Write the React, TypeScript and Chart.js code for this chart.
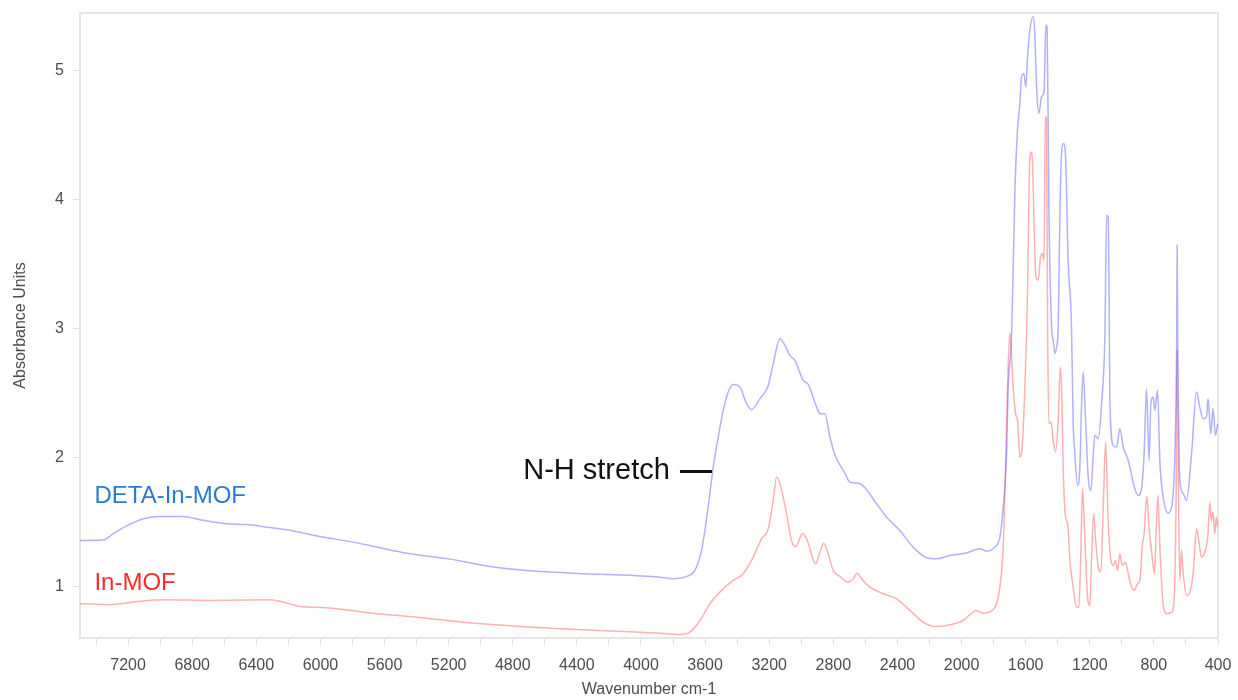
import React, { useEffect, useRef } from "react";
import { Chart, registerables } from "chart.js";

Chart.register(...registerables);

// DETA-In-MOF spectrum (wavenumber cm-1, absorbance)
const detaWavenumber = [
  7500, 7355, 7292, 7209, 7105, 7001, 6856, 6751, 6585, 6460, 6335, 6210, 6003, 5795, 5629, 5480, 5192, 4942, 4672, 4360,
  4048, 3882, 3799, 3715, 3664, 3622, 3581, 3549, 3518, 3487, 3456, 3425, 3383, 3341, 3310, 3258, 3206, 3175, 3133, 3102,
  3071, 3040, 2988, 2957, 2904, 2884, 2853, 2821, 2790, 2728, 2697, 2634, 2530, 2468, 2385, 2302, 2218, 2156, 2073, 1969,
  1886, 1844, 1792, 1761, 1740, 1719, 1709, 1688, 1667, 1651, 1636, 1626, 1611, 1599, 1588, 1574, 1553, 1543, 1532, 1518,
  1501, 1485, 1474, 1466, 1455, 1438, 1428, 1418, 1407, 1397, 1386, 1376, 1363, 1351, 1335, 1314, 1304, 1293, 1276, 1262,
  1251, 1241, 1226, 1210, 1193, 1178, 1168, 1147, 1126, 1106, 1095, 1085, 1078, 1075, 1054, 1033, 1012, 991, 960, 919,
  898, 877, 861, 846, 830, 819, 804, 794, 777, 763, 742, 711, 690, 669, 658, 655, 651, 638, 617, 596,
  565, 534, 514, 493, 472, 462, 445, 431, 416, 402,
];
const detaAbsorbance = [
  1.357, 1.36, 1.41, 1.47, 1.525, 1.543, 1.543, 1.518, 1.487, 1.48, 1.46, 1.44, 1.388, 1.344, 1.3, 1.262, 1.212, 1.155, 1.119, 1.099,
  1.085, 1.072, 1.06, 1.078, 1.124, 1.28, 1.616, 1.93, 2.16, 2.366, 2.509, 2.568, 2.547, 2.418, 2.372, 2.457, 2.56, 2.729, 2.923, 2.871,
  2.793, 2.755, 2.6, 2.568, 2.392, 2.341, 2.341, 2.16, 2.02, 1.88, 1.81, 1.797, 1.642, 1.538, 1.435, 1.305, 1.223, 1.215, 1.241, 1.259,
  1.293, 1.274, 1.305, 1.383, 1.616, 2.03, 2.547, 2.936, 4.075, 4.54, 4.748, 4.955, 4.98, 4.877, 5.11, 5.317, 5.42, 5.29, 4.877, 4.67,
  4.8, 4.85, 5.356, 5.34, 3.92, 3.013, 2.91, 2.807, 2.858, 3.013, 3.92, 4.36, 4.437, 4.33, 3.53, 3.013, 2.289, 2.03, 1.784, 1.926,
  2.418, 2.664, 2.289, 1.849, 1.745, 2.03, 2.172, 2.147, 2.418, 2.936, 3.88, 3.867, 3.013, 2.47, 2.095, 2.082, 2.224, 2.082, 1.978, 1.759,
  1.707, 1.759, 2.03, 2.535, 1.978, 2.418, 2.47, 2.366, 2.522, 1.978, 1.693, 1.569, 1.616, 2.03, 2.9, 3.65, 2.9, 1.823, 1.72, 1.668,
  2.03, 2.509, 2.392, 2.302, 2.315, 2.457, 2.186, 2.38, 2.172, 2.263,
];

// In-MOF spectrum (wavenumber cm-1, absorbance)
const inmofWavenumber = [
  7500, 7313, 7126, 6959, 6689, 6335, 6252, 6128, 5961, 5649, 5480, 5110, 4672, 4256, 3882, 3757, 3695, 3632, 3570, 3508,
  3425, 3362, 3300, 3248, 3206, 3175, 3154, 3133, 3092, 3061, 3034, 2992, 2967, 2909, 2884, 2859, 2832, 2801, 2759, 2707,
  2676, 2651, 2624, 2572, 2489, 2405, 2322, 2239, 2177, 2094, 1990, 1906, 1865, 1803, 1780, 1761, 1740, 1726, 1713, 1699,
  1678, 1663, 1651, 1636, 1622, 1605, 1588, 1578, 1567, 1557, 1547, 1536, 1522, 1507, 1495, 1485, 1478, 1470, 1463, 1455,
  1442, 1428, 1413, 1397, 1384, 1376, 1366, 1351, 1338, 1324, 1304, 1283, 1268, 1256, 1245, 1231, 1214, 1199, 1189, 1176,
  1162, 1147, 1131, 1116, 1101, 1085, 1068, 1054, 1039, 1027, 1012, 998, 977, 960, 939, 923, 902, 887, 873, 861,
  844, 830, 813, 797, 786, 775, 761, 740, 719, 688, 672, 661, 655, 647, 638, 628, 617, 596, 576, 555,
  534, 520, 503, 486, 462, 451, 441, 431, 420, 410, 402,
];
const inmofAbsorbance = [
  0.866, 0.86, 0.886, 0.897, 0.891, 0.897, 0.886, 0.845, 0.835, 0.788, 0.77, 0.723, 0.684, 0.658, 0.637, 0.627, 0.645, 0.736, 0.866, 0.956,
  1.047, 1.099, 1.228, 1.37, 1.448, 1.668, 1.849, 1.797, 1.564, 1.357, 1.31, 1.41, 1.37, 1.176, 1.266, 1.336, 1.254, 1.124, 1.078, 1.033,
  1.06, 1.103, 1.06, 0.995, 0.943, 0.904, 0.814, 0.723, 0.69, 0.697, 0.736, 0.814, 0.793, 0.819, 0.87, 0.995, 1.305, 1.9, 2.547, 2.97,
  2.547, 2.34, 2.289, 2.004, 2.082, 2.547, 3.3, 4.178, 4.372, 4.28, 3.79, 3.4, 3.376, 3.557, 3.583, 3.531, 4.644, 4.62, 3.0, 2.263,
  2.276, 2.134, 2.043, 2.289, 2.703, 2.547, 1.926, 1.538, 1.487, 1.202, 0.995, 0.839, 0.839, 1.254, 1.759, 1.383, 0.917, 0.852, 1.202, 1.564,
  1.332, 1.15, 1.111, 1.616, 2.12, 1.512, 1.202, 1.163, 1.202, 1.124, 1.254, 1.163, 1.189, 1.099, 0.995, 0.969, 1.021, 1.047, 1.305, 1.41,
  1.699, 1.46, 1.254, 1.099, 1.41, 1.707, 1.254, 0.839, 0.788, 0.8, 0.943, 1.771, 2.832, 1.771, 1.047, 1.28, 1.099, 0.93, 0.956, 1.099,
  1.448, 1.357, 1.228, 1.254, 1.41, 1.654, 1.512, 1.577, 1.41, 1.538, 1.46,
];

const xTickValues = [
  400, 600, 800, 1000, 1200, 1400, 1600, 1800, 2000, 2200, 2400, 2600, 2800, 3000, 3200, 3400, 3600, 3800, 4000,
  4200, 4400, 4600, 4800, 5000, 5200, 5400, 5600, 5800, 6000, 6200, 6400, 6600, 6800, 7000, 7200, 7400,
];
const yTickValues = [1, 2, 3, 4, 5];

const FONT = "'Liberation Sans', Arial, Helvetica, sans-serif";

const frameAndLabels = {
  id: "frameAndLabels",
  beforeDatasetsDraw(chart: any) {
    const { ctx, chartArea } = chart;
    ctx.save();
    ctx.strokeStyle = "#e6e6e6";
    ctx.lineWidth = 2;
    ctx.strokeRect(chartArea.left, chartArea.top, chartArea.right - chartArea.left, chartArea.bottom - chartArea.top);
    ctx.restore();
  },
  afterDatasetsDraw(chart: any) {
    const { ctx } = chart;
    const xs = chart.scales.x;
    const ys = chart.scales.y;
    ctx.save();
    ctx.textBaseline = "middle";
    ctx.textAlign = "left";
    ctx.font = `24px ${FONT}`;
    ctx.fillStyle = "#2b7bd0";
    ctx.fillText("DETA-In-MOF", xs.getPixelForValue(7410), ys.getPixelForValue(1.7));
    ctx.fillStyle = "#ff2b2b";
    ctx.fillText("In-MOF", xs.getPixelForValue(7410), ys.getPixelForValue(1.025));
    ctx.fillStyle = "#111";
    ctx.font = `29px ${FONT}`;
    ctx.textAlign = "right";
    const ny = ys.getPixelForValue(1.893);
    ctx.fillText("N-H stretch", xs.getPixelForValue(3820), ny);
    ctx.strokeStyle = "#111";
    ctx.lineWidth = 3;
    ctx.beginPath();
    ctx.moveTo(xs.getPixelForValue(3757), ny);
    ctx.lineTo(xs.getPixelForValue(3557), ny);
    ctx.stroke();
    ctx.restore();
  },
};

export default function App() {
  const ref = useRef<HTMLCanvasElement | null>(null);
  useEffect(() => {
    if (!ref.current) return;
    const chart = new Chart(ref.current, {
      type: "line",
      data: {
        datasets: [
          {
            label: "DETA-In-MOF",
            data: detaWavenumber.map((x, i) => ({ x, y: detaAbsorbance[i] })),
            borderColor: "rgba(70,70,255,0.42)",
            borderWidth: 1.5,
            pointRadius: 0,
            cubicInterpolationMode: "monotone",
          },
          {
            label: "In-MOF",
            data: inmofWavenumber.map((x, i) => ({ x, y: inmofAbsorbance[i] })),
            borderColor: "rgba(255,70,70,0.42)",
            borderWidth: 1.5,
            pointRadius: 0,
            cubicInterpolationMode: "monotone",
          },
        ],
      },
      options: {
        animation: false,
        responsive: false,
        layout: { padding: { left: 0, right: 20, top: 13, bottom: 0 } },
        plugins: { legend: { display: false }, tooltip: { enabled: false } },
        scales: {
          x: {
            type: "linear",
            reverse: true,
            min: 400,
            max: 7500,
            afterBuildTicks: (s: any) => {
              s.ticks = xTickValues.map((v) => ({ value: v }));
            },
            afterFit: (s: any) => {
              s.height = 62;
            },
            ticks: {
              autoSkip: false,
              maxRotation: 0,
              padding: 11,
              color: "#4d4d4d",
              font: { family: FONT, size: 16 },
              callback: (v: any) => (Number(v) % 400 === 0 ? String(v) : ""),
            },
            grid: { drawOnChartArea: false, tickLength: 7, color: "#e0e0e0", lineWidth: 1 },
            border: { display: true, color: "#e6e6e6", width: 2 },
            title: {
              display: true,
              text: "Wavenumber cm-1",
              color: "#4d4d4d",
              font: { family: FONT, size: 16 },
              padding: { top: 0, bottom: 1 },
            },
          },
          y: {
            type: "linear",
            min: 0.6,
            max: 5.45,
            afterBuildTicks: (s: any) => {
              s.ticks = yTickValues.map((v) => ({ value: v }));
            },
            afterFit: (s: any) => {
              s.width = 80;
              s.paddingTop = 0;
              s.paddingBottom = 0;
            },
            ticks: {
              padding: 9,
              color: "#4d4d4d",
              font: { family: FONT, size: 16 },
              callback: (v: any) => String(v),
            },
            grid: { drawOnChartArea: false, tickLength: 7, color: "#e0e0e0", lineWidth: 1 },
            border: { display: true, color: "#e6e6e6", width: 2 },
            title: {
              display: true,
              text: "Absorbance Units",
              color: "#4d4d4d",
              font: { family: FONT, size: 16 },
              padding: { top: 11, bottom: 0 },
            },
          },
        },
      },
      plugins: [frameAndLabels],
    });
    return () => chart.destroy();
  }, []);
  return (
    <div style={{ position: "fixed", left: 0, top: 0, width: 1238, height: 700, background: "#fff" }}>
      <canvas ref={ref} width={1238} height={700} style={{ display: "block" }} />
    </div>
  );
}
